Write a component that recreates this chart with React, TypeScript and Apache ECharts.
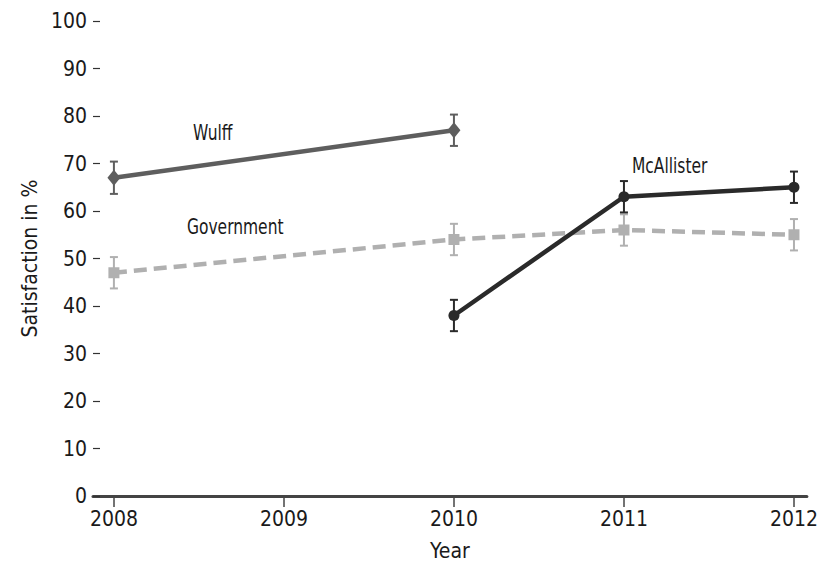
import React, { useEffect, useRef } from "react";
import * as echarts from "echarts";

const years = [2008, 2009, 2010, 2011, 2012];
const yTicks = [0, 10, 20, 30, 40, 50, 60, 70, 80, 90, 100];

const wulffYears = [2008, 2010];
const wulffValues = [67, 77];
const wulffErr = [3.4, 3.3];

const govYears = [2008, 2010, 2011, 2012];
const govValues = [47, 54, 56, 55];
const govErr = [3.3, 3.3, 3.3, 3.3];

const mcaYears = [2010, 2011, 2012];
const mcaValues = [38, 63, 65];
const mcaErr = [3.3, 3.3, 3.3];

const FONT = '"DejaVu Sans Condensed", "DejaVu Sans", sans-serif';

function pairs(xs: number[], ys: number[]) {
  return xs.map((x, i) => [x, ys[i]]);
}
function errData(xs: number[], ys: number[], es: number[]) {
  return xs.map((x, i) => [x, ys[i] - es[i], ys[i] + es[i]]);
}

function errorSeries(data: number[][], color: string) {
  return {
    type: "custom",
    z: 3,
    data,
    renderItem: (params: any, api: any) => {
      const x = api.value(0);
      const lo = api.coord([x, api.value(1)]);
      const hi = api.coord([x, api.value(2)]);
      const cap = 4;
      const style = { stroke: color, lineWidth: 2 };
      return {
        type: "group",
        children: [
          { type: "line", shape: { x1: lo[0], y1: lo[1], x2: hi[0], y2: hi[1] }, style },
          { type: "line", shape: { x1: lo[0] - cap, y1: lo[1], x2: lo[0] + cap, y2: lo[1] }, style },
          { type: "line", shape: { x1: hi[0] - cap, y1: hi[1], x2: hi[0] + cap, y2: hi[1] }, style },
        ],
      };
    },
  };
}

export default function App() {
  const ref = useRef<HTMLDivElement>(null);
  useEffect(() => {
    if (!ref.current) return;
    const chart = echarts.init(ref.current, undefined, { renderer: "svg" });
    const wulffC = "#5e5e5e";
    const govC = "#b0b0b0";
    const mcaC = "#2a2a2a";
    const labelStyle = (text: string) => ({
      text,
      font: `21px ${FONT}`,
      fill: "#1a1a1a",
      textVerticalAlign: "top",
    });
    chart.setOption({
      animation: false,
      backgroundColor: "#ffffff",
      textStyle: { fontFamily: FONT },
      grid: { left: 93, right: 9, top: 21, bottom: 71 },
      xAxis: {
        type: "value",
        min: 2007.877,
        max: 2012.076,
        name: "Year",
        nameLocation: "middle",
        nameGap: 44,
        nameTextStyle: { fontFamily: FONT, fontSize: 21, color: "#1a1a1a" },
        axisLine: { show: true, lineStyle: { color: "#444", width: 3 } },
        axisTick: { show: true, length: 11, lineStyle: { color: "#444", width: 1.5 }, customValues: years },
        axisLabel: {
          fontFamily: FONT,
          fontSize: 21,
          color: "#1a1a1a",
          margin: 12,
          customValues: years,
          formatter: (v: number) => String(v),
        },
        splitLine: { show: false },
      },
      yAxis: {
        type: "value",
        min: 0,
        max: 100,
        interval: 10,
        name: "Satisfaction in %",
        nameLocation: "middle",
        nameGap: 52,
        nameTextStyle: { fontFamily: FONT, fontSize: 21, color: "#1a1a1a" },
        axisLine: { show: false },
        axisTick: { show: true, inside: true, length: 7, lineStyle: { color: "#333", width: 1.2 }, customValues: yTicks },
        axisLabel: { fontFamily: FONT, fontSize: 21, color: "#1a1a1a", margin: 6, customValues: yTicks },
        splitLine: { show: false },
      },
      series: [
        {
          type: "line",
          name: "Government",
          data: pairs(govYears, govValues),
          symbol: "rect",
          symbolSize: 11,
          z: 4,
          itemStyle: { color: govC },
          lineStyle: { color: govC, width: 4.5, type: [13, 7] },
        },
        errorSeries(errData(govYears, govValues, govErr), govC),
        {
          type: "line",
          name: "Wulff",
          data: pairs(wulffYears, wulffValues),
          symbol: "diamond",
          symbolSize: [13, 16],
          z: 4,
          itemStyle: { color: wulffC },
          lineStyle: { color: wulffC, width: 4.5 },
        },
        errorSeries(errData(wulffYears, wulffValues, wulffErr), wulffC),
        {
          type: "line",
          name: "McAllister",
          data: pairs(mcaYears, mcaValues),
          symbol: "circle",
          symbolSize: 11,
          z: 5,
          itemStyle: { color: mcaC },
          lineStyle: { color: mcaC, width: 4.5 },
        },
        errorSeries(errData(mcaYears, mcaValues, mcaErr), mcaC),
      ],
      graphic: [
        { type: "text", x: 193, y: 122, scaleX: 0.82, style: labelStyle("Wulff") },
        { type: "text", x: 187, y: 216, scaleX: 0.82, style: labelStyle("Government") },
        { type: "text", x: 632, y: 155, scaleX: 0.82, style: labelStyle("McAllister") },
      ],
    });
    return () => chart.dispose();
  }, []);
  return (
    <div
      ref={ref}
      style={{ position: "fixed", left: 0, top: 0, width: 821, height: 567, background: "#fff" }}
    />
  );
}
